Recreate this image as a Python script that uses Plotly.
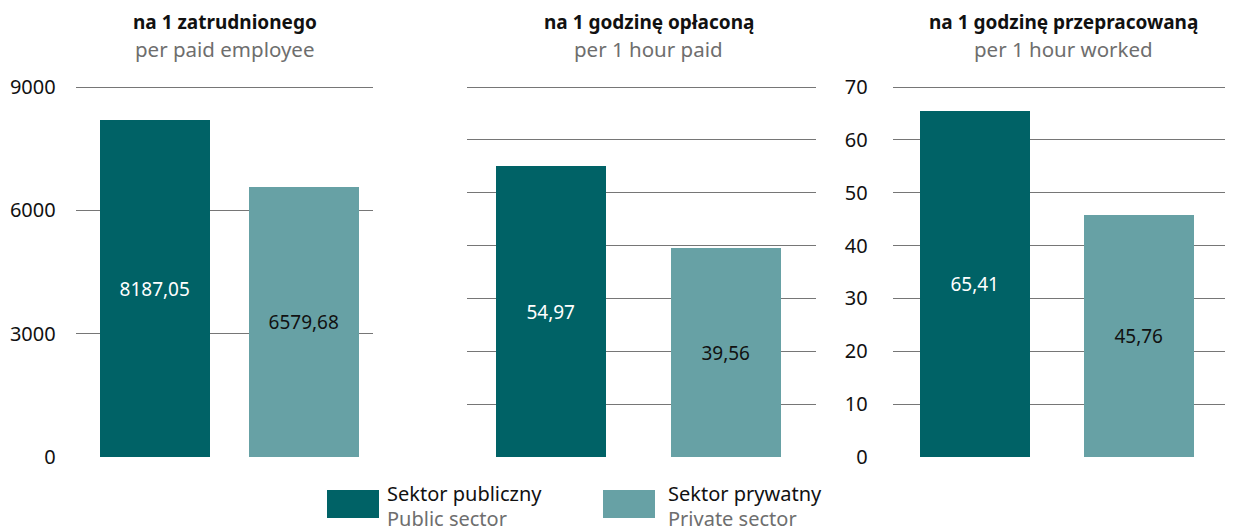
import plotly.graph_objects as go

# ---- data ----
sectors = ["Sektor publiczny", "Sektor prywatny"]
sectors_en = ["Public sector", "Private sector"]
per_employee = [8187.05, 6579.68]
per_hour_paid = [54.97, 39.56]
per_hour_worked = [65.41, 45.76]
titles_pl = ["na 1 zatrudnionego", "na 1 godzinę opłaconą", "na 1 godzinę przepracowaną"]
titles_en = ["per paid employee", "per 1 hour paid", "per 1 hour worked"]
colors = ["#006266", "#67a1a5"]
label_colors = ["#ffffff", "#111111"]

OFF = 8  # page body margin
W, H = 1233 - OFF, 527 - OFF
FONT = "Noto Sans"

def px_x(p):
    return (p - OFF) / W

def px_y(p):
    return 1 - (p - OFF) / H

def fmt(v):
    return f"{v:.2f}".replace(".", ",")

fig = go.Figure()
panels = [
    (per_employee, "x", "y", 0.738),
    (per_hour_paid, "x2", "y2", 0.629),
    (per_hour_worked, "x3", "y3", 0.671),
]
for vals, xa, ya, bw in panels:
    fig.add_trace(go.Bar(
        x=sectors, y=vals, xaxis=xa, yaxis=ya,
        marker=dict(color=colors, line=dict(width=0)),
        width=bw,
        text=[fmt(v) for v in vals],
        textposition="inside", insidetextanchor="middle", textangle=0,
        textfont=dict(family=FONT, size=19, color=label_colors),
        showlegend=False, hoverinfo="skip",
    ))

# domain top a bit above the top gridline so the top gridline is drawn
ydom = [px_y(457), px_y(85)]
top1 = 9000 * (457 - 85) / (457 - 87)
top2 = 70 * (457 - 85) / (457 - 87)
grid = dict(showgrid=True, gridcolor="#767676", gridwidth=1, zeroline=False,
            showline=False, ticks="", automargin=False,
            tickfont=dict(family=FONT, size=20, color="#111111"))
xcommon = dict(type="category", showticklabels=False, showgrid=False, zeroline=False,
               automargin=False)

fig.update_layout(
    width=W, height=H,
    margin=dict(l=0, r=0, t=0, b=0, autoexpand=False),
    paper_bgcolor="white", plot_bgcolor="white",
    bargap=0,
    xaxis=dict(domain=[px_x(75.7), px_x(373.3)], range=[-0.532, 1.465], anchor="y", **xcommon),
    xaxis2=dict(domain=[px_x(466.7), px_x(815.7)], range=[-0.482, 1.512], anchor="y2", **xcommon),
    xaxis3=dict(domain=[px_x(892.7), 1.0], range=[-0.502, 1.573], anchor="y3", **xcommon),
    yaxis=dict(domain=ydom, range=[0, top1], tickvals=[0, 3000, 6000, 9000], anchor="x",
               ticklabelstandoff=19, **grid),
    yaxis2=dict(domain=ydom, range=[0, top2], tickvals=[0, 10, 20, 30, 40, 50, 60, 70],
                anchor="x2", showticklabels=False, **grid),
    yaxis3=dict(domain=ydom, range=[0, top2], tickvals=[0, 10, 20, 30, 40, 50, 60, 70],
                anchor="x3", ticklabelstandoff=24, **grid),
)

annotations = []
centers = [224.5, 649, 1063]
for cx, tpl, ten in zip(centers, titles_pl, titles_en):
    annotations.append(dict(x=px_x(cx), y=px_y(22), xref="paper", yref="paper",
                            text=f"<b>{tpl}</b>", showarrow=False,
                            font=dict(family=FONT, size=19, color="#111111"),
                            xanchor="center", yanchor="middle"))
    annotations.append(dict(x=px_x(cx), y=px_y(49), xref="paper", yref="paper",
                            text=ten, showarrow=False,
                            font=dict(family=FONT, size=20.5, color="#6e6e6e"),
                            xanchor="center", yanchor="middle"))

shapes = []
legend_box_x = [327, 603]
legend_text_x = [385, 666]
for lx, tx, c, pl, en in zip(legend_box_x, legend_text_x, colors, sectors, sectors_en):
    shapes.append(dict(type="rect", xref="paper", yref="paper",
                       x0=px_x(lx), x1=px_x(lx + 52), y0=px_y(518), y1=px_y(490),
                       fillcolor=c, line=dict(width=0)))
    annotations.append(dict(x=px_x(tx), y=px_y(493), xref="paper", yref="paper",
                            text=pl, showarrow=False, xanchor="left", yanchor="middle",
                            font=dict(family=FONT, size=20, color="#111111")))
    annotations.append(dict(x=px_x(tx), y=px_y(518), xref="paper", yref="paper",
                            text=en, showarrow=False, xanchor="left", yanchor="middle",
                            font=dict(family=FONT, size=20, color="#6e6e6e")))

fig.update_layout(annotations=annotations, shapes=shapes)
fig.write_html("out.html")
